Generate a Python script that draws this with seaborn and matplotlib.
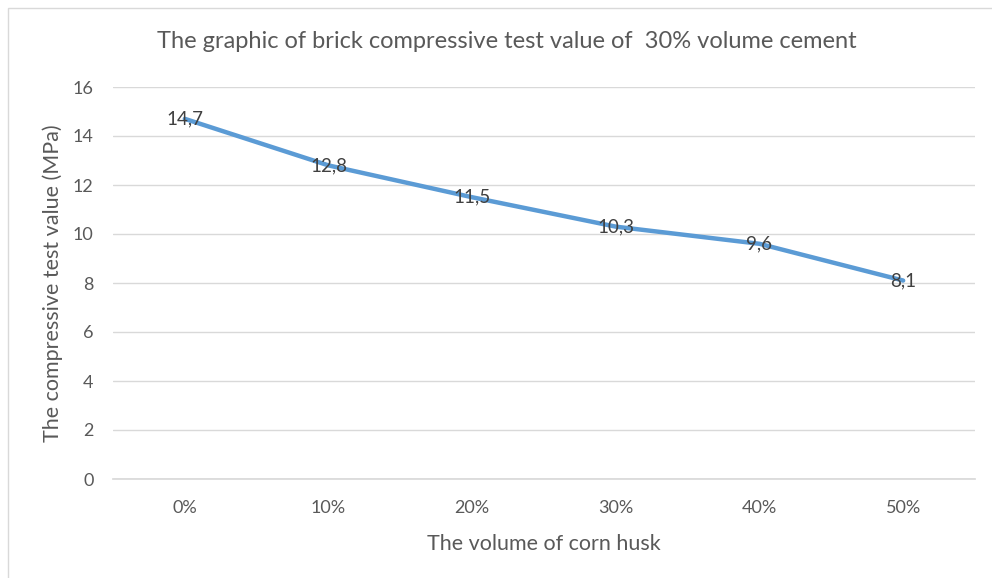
import pandas as pd
import matplotlib.pyplot as plt
import seaborn as sns
from matplotlib.patches import Rectangle

# data
husk_volume = ['0%', '10%', '20%', '30%', '40%', '50%']
strength = [14.7, 12.8, 11.5, 10.3, 9.6, 8.1]
strength_labels = ['14,7', '12,8', '11,5', '10,3', '9,6', '8,1']
y_ticks = [0, 2, 4, 6, 8, 10, 12, 14, 16]

df = pd.DataFrame({'volume': husk_volume, 'strength': strength})

sns.set_theme(style='white')
plt.rcParams['font.family'] = ['Lato', 'DejaVu Sans']
text_color = '#595959'
grid_color = '#D9D9D9'

fig = plt.figure(figsize=(9.92, 5.78), dpi=100)
ax = fig.add_axes([113 / 992, 1 - 479 / 578, (975 - 113) / 992, (479 - 87) / 578])

sns.lineplot(data=df, x='volume', y='strength', ax=ax, color='#5B9BD5',
             linewidth=3.2, sort=False)

for i, (v, lab) in enumerate(zip(strength, strength_labels)):
    ax.text(i, v, lab, ha='center', va='center', fontsize=13.5, color='#404040')

ax.set_xlim(-0.5, len(husk_volume) - 0.5)
ax.set_ylim(0, 16)
ax.set_yticks(y_ticks)
ax.yaxis.grid(True, color=grid_color, linewidth=1)
ax.set_axisbelow(True)
for s in ['left', 'right', 'top']:
    ax.spines[s].set_visible(False)
ax.spines['bottom'].set_color(grid_color)
ax.tick_params(axis='both', length=0, labelsize=13, labelcolor=text_color)
ax.tick_params(axis='x', pad=15)
ax.tick_params(axis='y', pad=14)

ax.set_xlabel('The volume of corn husk', fontsize=15.5, color=text_color, labelpad=13)
ax.set_ylabel('The compressive test value (MPa)', fontsize=15.5, color=text_color, labelpad=7)
fig.text(507 / 992, 1 - 42 / 578, 'The graphic of brick compressive test value of  30% volume cement',
         ha='center', va='center', fontsize=17, color=text_color)

# chart frame, cut off at right and bottom like the reference
fig.patches.append(Rectangle((8 / 992, -0.1), 1.2, 1 - 8 / 578 + 0.1,
                             transform=fig.transFigure, fill=False,
                             edgecolor='#D9D9D9', linewidth=1))

fig.savefig('out.png', dpi=100)
